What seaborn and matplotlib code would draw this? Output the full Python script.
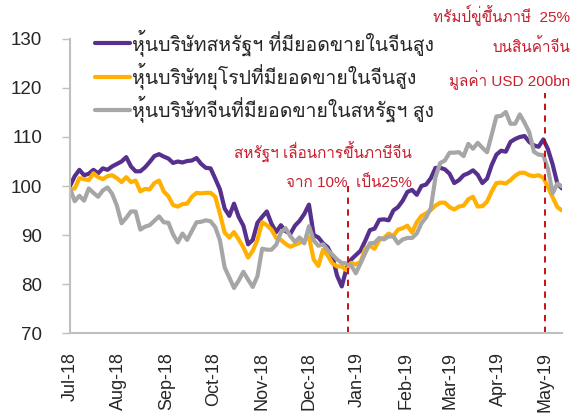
import pandas as pd
import matplotlib.pyplot as plt
import matplotlib.dates as mdates
import seaborn as sns
from matplotlib import font_manager
from matplotlib.ft2font import FT2Font

# values, one reading every 3 days from 1 Jul 2018
us_china = [100.0, 102.0, 103.3, 102.2, 102.5, 103.3, 102.6, 103.6, 103.3, 104.0,
            104.5, 105.0, 105.9, 104.0, 103.0, 103.0, 103.8, 104.9, 106.1, 106.5,
            106.0, 105.6, 104.7, 105.0, 104.8, 105.1, 105.2, 105.7, 104.5, 103.7,
            103.6, 101.5, 99.3, 95.4, 93.9, 96.4, 93.7, 91.9, 88.1, 89.0,
            92.5, 93.7, 94.8, 92.3, 90.6, 92.0, 90.8, 90.2, 91.9, 92.9,
            94.3, 96.2, 90.0, 89.5, 88.3, 87.5, 85.6, 81.7, 79.5, 83.2,
            85.0, 85.9, 86.8, 88.8, 91.0, 91.3, 93.1, 93.2, 93.0, 95.0,
            95.7, 97.0, 98.8, 99.2, 98.2, 100.0, 100.3, 101.6, 103.7, 103.7,
            103.4, 102.5, 100.6, 101.2, 102.2, 102.6, 103.2, 102.3, 100.6, 101.5,
            104.3, 106.4, 107.2, 107.0, 109.0, 109.6, 110.0, 110.2, 109.0, 108.3,
            108.0, 109.5, 107.5, 104.4, 100.5, 99.5]
eu_china = [99.3, 99.5, 101.6, 101.4, 101.2, 102.6, 101.8, 101.4, 102.0, 102.2,
            101.6, 100.8, 101.8, 100.8, 101.1, 98.9, 99.4, 99.3, 100.6, 101.1,
            98.9, 97.9, 96.1, 95.8, 96.3, 96.4, 97.8, 98.6, 98.5, 98.6,
            98.6, 97.8, 94.3, 90.5, 89.5, 90.6, 89.1, 87.5, 85.4, 86.8,
            89.0, 92.6, 92.0, 91.1, 89.4, 89.0, 88.2, 87.6, 88.0, 88.4,
            88.9, 89.6, 85.0, 83.7, 87.0, 85.8, 84.2, 83.6, 83.6, 82.8,
            84.3, 84.0, 84.5, 87.2, 87.8, 87.2, 89.0, 89.4, 90.3, 89.8,
            91.1, 91.4, 91.9, 90.5, 92.6, 93.9, 94.4, 95.1, 96.0, 96.6,
            96.6, 95.7, 95.2, 95.8, 96.0, 97.3, 97.8, 95.8, 95.9, 96.8,
            98.9, 100.6, 100.7, 100.5, 101.2, 102.1, 102.7, 102.7, 102.2, 102.0,
            102.2, 101.7, 99.8, 97.7, 95.7, 95.0]
cn_us = [99.5, 96.9, 98.0, 97.0, 99.5, 98.6, 97.8, 99.1, 99.7, 98.4,
         96.0, 92.4, 93.5, 94.8, 94.8, 91.1, 91.7, 92.0, 92.9, 93.8,
         92.6, 92.5, 90.1, 88.5, 90.3, 89.0, 90.8, 92.6, 92.7, 93.0,
         92.8, 91.6, 88.9, 83.4, 81.3, 79.2, 80.7, 82.5, 80.9, 79.4,
         81.6, 87.2, 87.0, 87.0, 88.0, 90.5, 91.4, 89.8, 88.6, 89.5,
         88.3, 91.8, 88.9, 87.8, 88.1, 86.9, 86.0, 85.0, 84.3, 84.2,
         83.8, 82.2, 84.2, 86.3, 88.3, 88.4, 89.4, 89.1, 89.7, 89.7,
         88.3, 89.1, 89.4, 89.4, 90.3, 92.4, 93.6, 95.5, 101.8, 104.7,
         105.2, 106.8, 106.8, 106.9, 106.1, 108.6, 107.6, 108.8, 107.8, 106.9,
         110.5, 114.2, 114.3, 115.1, 112.7, 112.7, 114.6, 112.9, 111.0, 107.0,
         106.4, 106.3, 103.5, 98.5, 100.5, 99.9]
dates = pd.date_range('2018-07-01', periods=len(us_china), freq='3D')

names = ['หุ้นบริษัทสหรัฐฯ ที่มียอดขายในจีนสูง',
         'หุ้นบริษัทยุโรปที่มียอดขายในจีนสูง',
         'หุ้นบริษัทจีนที่มียอดขายในสหรัฐฯ สูง']
colors = ['#56308C', '#FFB000', '#A6A6A6']

event_dates = ['2018-12-26', '2019-05-01']
event_tops = [100, 119]
note1 = 'สหรัฐฯ เลื่อนการขึ้นภาษีจีน\nจาก 10%  เป็น25%'
note2 = 'ทรัมป์ขู่ขึ้นภาษี  25%\nบนสินค้าจีน\nมูลค่า USD 200bn'

df = pd.DataFrame({'date': list(dates) * 3,
                   'value': us_china + eu_china + cn_us,
                   'series': [names[0]] * len(dates) + [names[1]] * len(dates) + [names[2]] * len(dates)})

sns.set_style('white')

# find a font that has Thai glyphs
thai_font = None
for f in font_manager.fontManager.ttflist:
    try:
        if 0x0E01 in FT2Font(f.fname).get_charmap():
            thai_font = f.name
            break
    except Exception:
        pass
fams = ['Liberation Sans']
if thai_font:
    fams.append(thai_font)
fams.append('DejaVu Sans')
plt.rcParams['font.family'] = fams

fig = plt.figure(figsize=(5.8, 4.17), dpi=100)
ax = fig.add_axes([0.1207, 0.2014, 0.8483, 0.7051])

sns.lineplot(data=df, x='date', y='value', hue='series', hue_order=names,
             palette=dict(zip(names, colors)), linewidth=3, ax=ax, legend=False)

for d, top in zip(event_dates, event_tops):
    ax.vlines(pd.Timestamp(d), 70, top, colors='#C00000', linestyles=(0, (3.5, 3)), linewidth=1.3)

ax.set_xlim(dates[0], dates[-1])
ax.set_ylim(70, 130)
ax.set_yticks(range(70, 131, 10))
ax.xaxis.set_major_locator(mdates.MonthLocator())
ax.xaxis.set_major_formatter(mdates.DateFormatter('%b-%y'))
ax.tick_params(axis='x', rotation=90, length=0, pad=14, labelsize=13)
ax.tick_params(axis='y', length=6, width=1, color='#BFBFBF', pad=14, labelsize=13.5, left=True)
ax.set_xlabel('')
ax.set_ylabel('')
for s in ['top', 'right']:
    ax.spines[s].set_visible(False)
for s in ['left', 'bottom']:
    ax.spines[s].set_color('#BFBFBF')
    ax.spines[s].set_linewidth(1.5)

handles = [plt.Line2D([], [], color=c, linewidth=3) for c in colors]
ax.legend(handles, names, loc='upper left', bbox_to_anchor=(0.035, 1.06), frameon=False,
          fontsize=14, handlelength=1.8, handletextpad=0.1, labelspacing=0.32, borderaxespad=0)

fig.text(412 / 580, 1 - 166 / 417, note1, color='#C8202F', fontsize=11, ha='right', va='center',
         linespacing=1.95)
fig.text(570 / 580, 1 - 47 / 417, note2, color='#C8202F', fontsize=11, ha='right', va='center',
         linespacing=1.9)

plt.savefig('out.png', dpi=100)
